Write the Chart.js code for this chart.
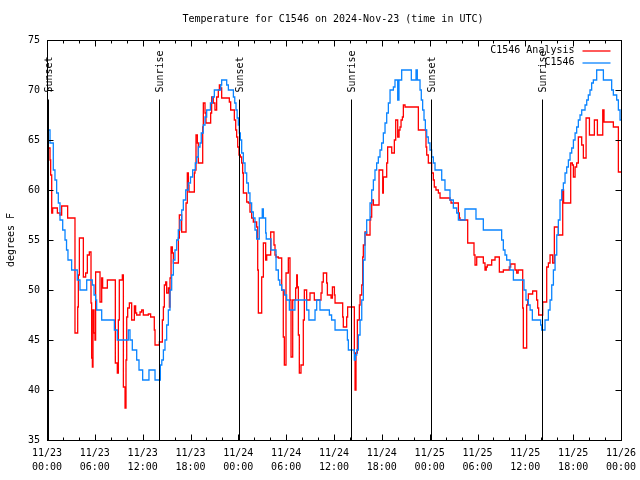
<!DOCTYPE html>
<html lang="en">
<head>
<meta charset="UTF-8" />
<title>Temperature for C1546 on 2024-Nov-23</title>
<script src="https://cdn.jsdelivr.net/npm/chart.js"></script>
<style>
  body { margin: 0; background: #ffffff; }
  #wrap { width: 640px; height: 480px; }
</style>
</head>
<body>
<div id="wrap"><canvas id="tempChart" width="640" height="480"></canvas></div>
<script>
  const FONT = "'DejaVu Sans Mono', 'Liberation Mono', monospace";
  const TITLE = 'Temperature for C1546 on 2024-Nov-23 (time in UTC)';

  // x values are hours since 11/23 00:00 UTC
  const dayLabels = ['11/23', '11/23', '11/23', '11/23', '11/24', '11/24', '11/24', '11/24', '11/25', '11/25', '11/25', '11/25', '11/26'];
  const timeLabels = ['00:00', '06:00', '12:00', '18:00', '00:00', '06:00', '12:00', '18:00', '00:00', '06:00', '12:00', '18:00', '00:00'];

  const sunHours = [0.17, 14.08, 24.13, 38.16, 48.2, 62.13];
  const sunLabels = ['Sunset', 'Sunrise', 'Sunset', 'Sunrise', 'Sunset', 'Sunrise'];

  // C1546 Analysis (red)
  const analysisSeries = [
    [0,65.5],[0.17,64.2],[0.38,63],[0.46,61.5],[0.59,57.7],[0.71,58.2],[1.3,57.7],[1.63,57.5],[1.84,58.4],[2.59,57.2],
    [3.51,45.7],[3.85,48.3],[3.93,51.5],[4.06,55.2],[4.56,51.3],[4.85,51.7],[5.06,53.5],[5.31,53.8],[5.52,48.7],[5.6,43.2],
    [5.69,42.3],[5.77,48],[5.9,45.7],[6.02,45],[6.1,51.8],[6.65,48.8],[6.86,51.2],[6.98,50.2],[7.57,51],[8.57,42.7],
    [8.82,41.7],[8.95,47],[9.07,51],[9.45,51.5],[9.58,40.3],[9.79,38.2],[9.91,43],[10.0,47.3],[10.12,48.2],[10.33,48.7],
    [10.62,47],[10.96,48.4],[11.12,47.7],[11.25,47.5],[11.67,47.8],[11.88,48],[12.08,47.5],[12.71,47.6],[13.0,47.3],[13.46,46],
    [13.55,44.5],[14.09,44.8],[14.47,47],[14.6,48.3],[14.72,50.5],[14.89,50.8],[15.01,49.7],[15.22,50.2],[15.35,48.3],[15.43,51.2],
    [15.56,54.3],[15.72,53.7],[15.85,52.7],[16.48,55.2],[16.6,57.5],[16.89,55.8],[17.44,58.7],[17.6,61.7],[17.73,60.5],[17.81,59.8],
    [18.48,61.7],[18.56,62],[18.69,65.5],[18.86,64.7],[18.98,62.7],[19.53,66.3],[19.61,68.7],[19.82,67.7],[19.94,66.7],[20.53,67.7],
    [20.65,69.3],[20.86,68.7],[21.07,68],[21.28,69.3],[21.49,70],[21.62,70.5],[21.75,70.2],[21.91,69.2],[22.87,68.8],[23.04,68],
    [23.5,67],[23.67,66],[23.79,65.3],[23.92,64.3],[24.08,63.5],[24.25,63.3],[24.42,62.7],[24.54,61.7],[24.63,59.7],[25.05,58.8],
    [25.26,58.7],[25.46,57.8],[25.67,57.2],[25.88,56.8],[26.3,56.3],[26.43,52],[26.51,47.7],[26.93,51.3],[27.14,54.7],[27.43,53],
    [27.56,53.5],[28.06,55.8],[28.47,54.5],[28.6,53.5],[28.73,53.3],[29.02,53.2],[29.44,50],[29.64,45.3],[29.77,42.5],[29.98,51.7],
    [30.27,53.2],[30.48,49],[30.61,43.3],[30.82,49],[31.19,50.2],[31.32,51.5],[31.4,50.3],[31.53,45.5],[31.65,41.7],[31.86,42.5],
    [32.15,47],[32.28,50],[32.57,49],[32.99,49.7],[33.53,49],[34.37,49.7],[34.5,50.8],[34.66,51.7],[35.08,50.7],[35.17,49.5],
    [35.63,49.2],[35.8,50.3],[36.05,49.5],[36.13,48.7],[37.09,47.3],[37.17,46.3],[37.59,47.3],[37.71,48.3],[38.55,43.7],[38.64,40],
    [38.76,43.7],[38.93,47],[39.18,48.5],[39.27,49.5],[39.48,50.5],[39.6,53.3],[39.68,54.5],[39.89,55.8],[40.1,55.5],[40.52,57],
    [40.6,57.3],[40.73,59],[40.94,58.5],[41.65,62],[42.11,59.7],[42.19,61.3],[42.61,62.7],[42.73,64.3],[43.24,63.7],[43.57,65],
    [43.74,67],[43.99,65.3],[44.16,66],[44.28,66.3],[44.41,67],[44.58,67.3],[44.7,68.5],[44.91,68.3],[46.58,66],[47.54,64.3],
    [47.63,63.5],[47.83,62.7],[48.25,61.7],[48.46,61],[48.58,60.3],[48.79,60],[49.09,59.7],[49.3,59.2],[50.55,59],[50.68,58.7],
    [51.6,57.7],[51.72,57.2],[51.81,57],[52.77,54.7],[53.56,53.5],[53.69,52.5],[53.9,53.3],[54.73,52.7],[54.94,52],[55.1,52.3],
    [55.23,52.5],[55.78,53],[56.2,53.3],[56.74,51.8],[57.24,52],[57.99,52.3],[58.16,52.6],[58.7,52],[58.92,51.7],[59.1,52],
    [59.67,48.2],[59.75,44.2],[60.17,48.5],[60.3,49],[60.38,49.6],[60.92,49.9],[61.42,49],[61.55,48.2],[61.67,47.5],[62.18,48.8],
    [62.68,52.3],[62.89,52.7],[63.1,53.5],[63.43,52.7],[63.64,56.3],[64.14,55.5],[64.69,60],[64.8,58.7],[65.69,62.7],[65.9,62.5],
    [66.03,61.3],[66.24,62.3],[66.44,62.7],[66.65,65.3],[67.07,64.5],[67.28,63.2],[67.62,67.2],[68.04,65.5],[68.66,67],[69.04,65.5],
    [69.71,68],[69.87,66.8],[71.04,66.3],[71.67,61.8],[72,61.8]
  ];

  // C1546 observed (blue)
  const observedSeries = [
    [0,66],[0.38,64.7],[0.79,62],[1.0,61],[1.21,59.7],[1.42,58.7],[1.63,57],[1.97,56],[2.26,55],[2.45,54],
    [2.63,53],[3.09,52],[3.8,51],[4.14,50],[4.98,51],[5.68,50.5],[5.9,49.5],[6.1,49],[6.23,48],[6.86,47],
    [8.45,46],[8.82,45],[10.2,46],[10.41,45],[10.7,44],[11.25,43],[11.54,42],[12.0,41],[12.79,42],[13.55,41],
    [14.22,42.5],[14.4,43],[14.6,44],[14.8,45],[15.01,46.5],[15.22,48],[15.43,50],[15.64,51.5],[15.85,53],[16.05,54],
    [16.26,55],[16.47,56],[16.68,57],[16.9,58],[17.1,59],[17.4,60],[17.72,60.7],[18.0,61.3],[18.27,62],[18.6,62.7],
    [18.77,63.3],[18.98,64.3],[19.19,64.7],[19.35,65.7],[19.6,66.5],[19.82,67.3],[20.03,68],[20.5,68.7],[20.75,69.3],[20.99,70],
    [21.79,70.5],[21.91,71],[22.54,70.5],[22.75,70],[23.38,69.3],[23.55,68.7],[23.71,68],[23.85,67.2],[24.0,66.5],[24.12,65.7],
    [24.25,65],[24.42,63.7],[24.63,62.7],[24.84,61.7],[25.05,60.7],[25.26,59.7],[25.46,58.7],[25.67,57.8],[25.88,57.2],[26.09,56],
    [26.3,55.1],[26.63,57.2],[27.0,58.1],[27.14,57.2],[27.43,55.7],[27.5,55.1],[28.1,54],[28.73,52],[29.02,51],[29.2,50.5],
    [29.44,50],[29.8,49.5],[30.06,49],[30.4,48],[31.1,49],[32.57,48],[32.85,47],[33.62,48],[33.83,49],[34.24,48],
    [35.42,47.5],[35.7,47],[36.13,46],[37.68,45],[37.8,44],[38.55,43],[38.7,43.5],[38.85,44],[39.06,45.5],[39.27,47],
    [39.48,49],[39.68,53],[39.89,55.7],[40.1,57],[40.52,58.7],[40.73,60],[40.94,61],[41.14,62],[41.35,62.7],[41.56,63.3],
    [41.77,64],[41.98,64.7],[42.19,65.7],[42.4,66.7],[42.61,67.7],[42.82,68.7],[43.03,70],[43.45,70.3],[43.65,71],[43.99,69],
    [44.15,71],[44.49,72],[45.7,71],[46.29,72],[46.45,71],[46.79,70],[46.95,69],[47.12,68],[47.29,67],[47.46,66],
    [47.63,65.3],[47.83,64.7],[48.04,64],[48.25,63.3],[48.46,62.7],[48.67,62],[49.51,61],[49.92,60],[50.55,59],[50.97,58.2],
    [51.39,57.7],[51.6,57],[52.43,58.1],[53.81,57.1],[54.73,56],[57.03,55],[57.24,54],[57.45,53.5],[57.66,53],[58.08,52],
    [58.5,51],[59.83,50],[60.08,49],[60.38,48.5],[60.6,48],[60.88,47],[61.92,46.5],[62.05,46],[62.47,47],[62.89,48],
    [63.1,49],[63.31,50.5],[63.52,52],[63.73,53.5],[63.94,55.5],[64.14,57],[64.35,59],[64.56,60],[64.77,60.7],[64.98,61.7],
    [65.19,62.3],[65.4,63],[65.61,63.7],[65.82,64.2],[66.03,65],[66.24,65.7],[66.44,66.3],[66.65,67],[66.86,67.5],[67.07,68],
    [67.49,68.5],[67.7,69],[67.9,69.5],[68.11,70],[68.32,70.7],[68.53,71],[68.95,72],[69.79,71],[70.83,70],[71.04,69.5],
    [71.46,69],[71.67,68],[71.88,67],[72,67]
  ];

  const RED = '#ff0000';
  const BLUE = '#0a84ff';
  const LINE_W = 1.3;

  const toPoints = s => s.map(p => ({ x: p[0], y: p[1] }));

  // title, frame, inward ticks, sunrise/sunset markers and legend, gnuplot style
  const gnuplotFrame = {
    id: 'gnuplotFrame',
    afterDatasetsDraw(chart) {
      const { ctx, chartArea: a, scales: { x, y } } = chart;
      const L = Math.round(a.left) + 0.5, R = Math.round(a.right) + 0.5;
      const T = Math.round(a.top) + 0.5, B = Math.round(a.bottom) + 0.5;
      ctx.save();
      ctx.strokeStyle = '#000';
      ctx.fillStyle = '#000';
      ctx.lineWidth = 1;
      ctx.font = '10px ' + FONT;

      ctx.textAlign = 'center';
      ctx.textBaseline = 'middle';
      ctx.fillText(TITLE, (a.left + a.right) / 2 - 1, 19);

      sunHours.forEach((h, i) => {
        const px = Math.round(x.getPixelForValue(h)) + 0.5;
        ctx.beginPath();
        ctx.moveTo(px, T + 59);
        ctx.lineTo(px, B);
        ctx.stroke();
        ctx.save();
        ctx.translate(px + 1, T + 52);
        ctx.rotate(-Math.PI / 2);
        ctx.textAlign = 'left';
        ctx.textBaseline = 'middle';
        ctx.fillText(sunLabels[i], 0, 0);
        ctx.restore();
      });

      ctx.strokeRect(L, T, R - L, B - T);
      ctx.beginPath();
      for (let h = 0; h <= 72; h += 2) {
        const px = Math.round(x.getPixelForValue(h)) + 0.5;
        const len = h % 6 === 0 ? 6 : 3;
        ctx.moveTo(px, B); ctx.lineTo(px, B - len);
        ctx.moveTo(px, T); ctx.lineTo(px, T + len);
      }
      for (let v = 35; v <= 75; v += 5) {
        const py = Math.round(y.getPixelForValue(v)) + 0.5;
        ctx.moveTo(L, py); ctx.lineTo(L + 6, py);
        ctx.moveTo(R, py); ctx.lineTo(R - 6, py);
      }
      ctx.stroke();

      // legend
      const items = [['C1546 Analysis', RED], ['C1546', BLUE]];
      ctx.textAlign = 'right';
      ctx.textBaseline = 'middle';
      ctx.lineWidth = LINE_W;
      items.forEach((it, i) => {
        const ly = T + 10 + i * 12;
        ctx.fillStyle = '#000';
        ctx.fillText(it[0], R - 47, ly);
        ctx.strokeStyle = it[1];
        ctx.beginPath();
        ctx.moveTo(R - 39, Math.round(ly));
        ctx.lineTo(R - 11, Math.round(ly));
        ctx.stroke();
      });
      ctx.restore();
    }
  };

  Chart.defaults.color = '#000';
  Chart.defaults.font.family = FONT;
  Chart.defaults.font.size = 10;

  new Chart(document.getElementById('tempChart'), {
    type: 'line',
    data: {
      datasets: [
        {
          label: 'C1546 Analysis',
          data: toPoints(analysisSeries),
          borderColor: RED,
          borderWidth: LINE_W,
          stepped: true,
          pointRadius: 0,
          fill: false,
          order: 2
        },
        {
          label: 'C1546',
          data: toPoints(observedSeries),
          borderColor: BLUE,
          borderWidth: LINE_W,
          stepped: true,
          pointRadius: 0,
          fill: false,
          order: 1
        }
      ]
    },
    options: {
      responsive: false,
      animation: false,
      devicePixelRatio: 1,
      layout: { padding: { left: 0, right: 19, top: 40, bottom: 0 } },
      plugins: {
        legend: { display: false },
        tooltip: { enabled: false },
        title: { display: false }
      },
      scales: {
        x: {
          type: 'linear',
          min: 0,
          max: 72,
          grid: { display: false, drawTicks: false },
          border: { display: false },
          afterFit: s => { s.height = 40; s.paddingLeft = 0; s.paddingRight = 0; },
          ticks: {
            stepSize: 6,
            autoSkip: false,
            maxRotation: 0,
            padding: 6,
            font: { family: FONT, size: 10, lineHeight: 1.45 },
            callback: v => {
              const i = Math.round(v / 6);
              return [dayLabels[i], timeLabels[i]];
            }
          }
        },
        y: {
          min: 35,
          max: 75,
          grid: { display: false, drawTicks: false },
          border: { display: false },
          afterFit: s => { s.width = 47; },
          ticks: { stepSize: 5, padding: 7, font: { family: FONT, size: 10 } },
          title: {
            display: true,
            text: 'degrees F',
            font: { family: FONT, size: 10 },
            padding: { top: 5, bottom: 0 }
          }
        }
      }
    },
    plugins: [gnuplotFrame]
  });
</script>
</body>
</html>
